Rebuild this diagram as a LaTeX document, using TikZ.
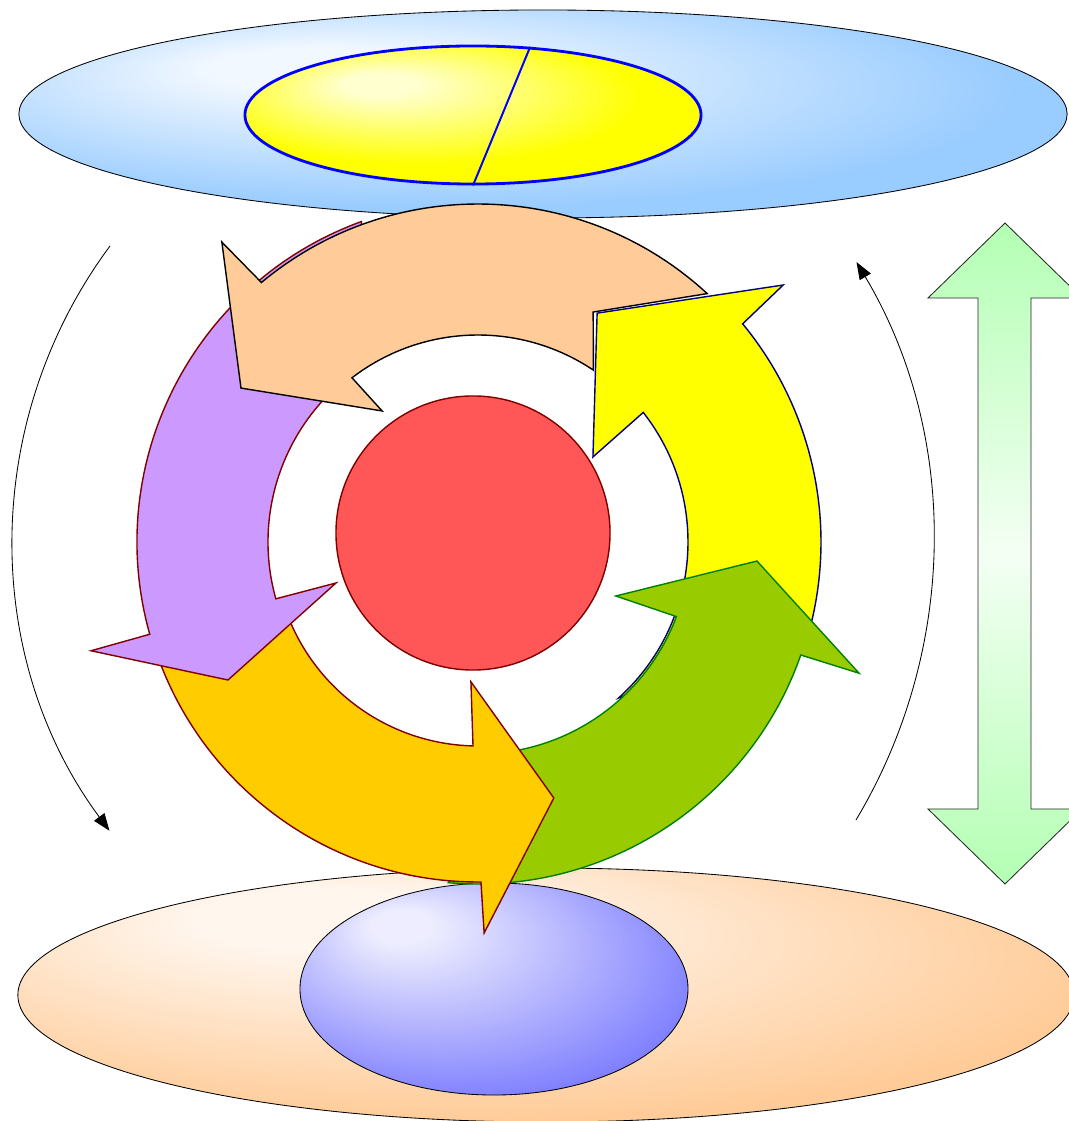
\documentclass[tikz,border=0pt]{standalone}
\usepackage{xcolor}
\usepackage{tikz}
\usetikzlibrary{arrows.meta,positioning,shapes.geometric}

\definecolor{skylight}{HTML}{F2F8FF}
\definecolor{skydark}{HTML}{99CCFF}
\definecolor{pielight}{HTML}{FFFFD0}
\definecolor{piedark}{HTML}{FFFF00}
\definecolor{sandlight}{HTML}{FFF6EE}
\definecolor{sanddark}{HTML}{FFCC99}
\definecolor{corelight}{HTML}{EDEDFF}
\definecolor{coredark}{HTML}{8080FF}
\definecolor{pieblue}{HTML}{0000FF}
\definecolor{apricot}{HTML}{FFCC99}
\definecolor{sun}{HTML}{FFFF00}
\definecolor{navy}{HTML}{000080}
\definecolor{leaf}{HTML}{99CC00}
\definecolor{leafedge}{HTML}{008000}
\definecolor{amber}{HTML}{FFCC00}
\definecolor{maroon}{HTML}{800000}
\definecolor{lilac}{HTML}{CC99FF}
\definecolor{coral}{HTML}{FF5757}
\definecolor{mint}{HTML}{B3FFB3}
\definecolor{mintlight}{HTML}{F4FFF4}

\pgfdeclareradialshading{skyglow}{\pgfpoint{-12bp}{12bp}}{color(0bp)=(skylight); color(5bp)=(skylight); color(28bp)=(skydark); color(50bp)=(skydark)}
\pgfdeclareradialshading{pieglow}{\pgfpoint{-11bp}{12bp}}{color(0bp)=(pielight); color(4bp)=(pielight); color(24bp)=(piedark); color(50bp)=(piedark)}
\pgfdeclareradialshading{sandglow}{\pgfpoint{-12bp}{17bp}}{color(0bp)=(sandlight); color(6bp)=(sandlight); color(31bp)=(sanddark); color(50bp)=(sanddark)}
\pgfdeclareradialshading{coreglow}{\pgfpoint{-13bp}{16bp}}{color(0bp)=(corelight); color(4bp)=(corelight); color(32bp)=(coredark); color(50bp)=(coredark)}

\begin{document}
\begin{tikzpicture}[
  x=0.025cm, y=0.025cm,
  disc/.style={draw, ellipse, inner sep=0pt, line width=0.6pt},
  band/.style={line width=1pt, line join=miter},
  swing/.style={-{Triangle[length=4.3mm, width=3.2mm]}, line width=0.6pt},
  lift/.style={draw=black!85, line width=0.6pt, top color=mint, bottom color=mint,
               middle color=mintlight}
]
  \useasboundingbox (0,0) rectangle (1069,1121);

  \node[disc, shading=skyglow, minimum width=26.2cm, minimum height=5.2cm] (lid) at (543,1007) {};
  \node[disc, draw=pieblue, line width=2pt, shading=pieglow, minimum width=11.4cm,
        minimum height=3.45cm] (pie) at (473,1006) {};
  \draw[pieblue, line width=1.4pt] (pie.50) -- (pie.south);

  \node[disc, shading=sandglow, minimum width=26.4cm, minimum height=6.35cm] (base) at (546,126) {};
  \node[disc, shading=coreglow, minimum width=9.7cm, minimum height=5.3cm] (core) at (494,132) {};

  \begin{scope}[shift={(478,579)}]
    \filldraw[band, fill=sun, draw=navy] (345:343) arc[start angle=345, end angle=399.5, radius=343]
      -- (40.1:399) -- (62.5:258) -- (36.5:143) -- (38.1:210)
      arc[start angle=38.1, end angle=-48, radius=210] -- cycle;
    \filldraw[band, fill=leaf, draw=leafedge] (265:342) arc[start angle=265, end angle=340.7, radius=342]
      -- (341:403) -- (356.1:279.6) -- (338.6:148) -- (339.4:212)
      arc[start angle=339.4, end angle=278, radius=212] -- cycle;
    \filldraw[band, fill=amber, draw=maroon] (186:340) arc[start angle=186, end angle=270.5, radius=340]
      -- (270.9:391) -- (286.5:267) -- (267.1:140) -- (268.6:204)
      arc[start angle=268.6, end angle=197, radius=204] -- cycle;
    \filldraw[band, fill=lilac, draw=maroon] (110:341) arc[start angle=110, end angle=195.7, radius=341]
      -- (195.7:402) -- (208.9:285.6) -- (196.1:147.8) -- (195.7:210)
      arc[start angle=195.7, end angle=120, radius=210] -- cycle;
    \filldraw[band, fill=apricot, draw=black] (47.3:338) arc[start angle=47.3, end angle=129.85, radius=338]
      -- (130.5:394.4) -- (147:282.6) -- (126.2:162.4) -- (127.5:207)
      arc[start angle=127.5, end angle=56.1, radius=207] -- (63.4:257.2) -- cycle;
  \end{scope}

  \node[circle, draw=maroon, fill=coral, line width=1pt, minimum size=6.85cm, inner sep=0pt] (hub) at (473,588) {};

  \draw[lift] (1005,898) -- (1082,823) -- (1031,823) -- (1031,312) -- (1082,312) -- (1005,237)
    -- (928,312) -- (978,312) -- (978,823) -- (928,823) -- cycle;

  \coordinate (fallstart) at (110,875);
  \coordinate (risestart) at (856,301);
  \draw[swing] (fallstart) arc[start angle=143.4, end angle=216.5, radius=491];
  \draw[swing] (risestart) arc[start angle=-30.9, end angle=30.8, radius=544];
\end{tikzpicture}
\end{document}
